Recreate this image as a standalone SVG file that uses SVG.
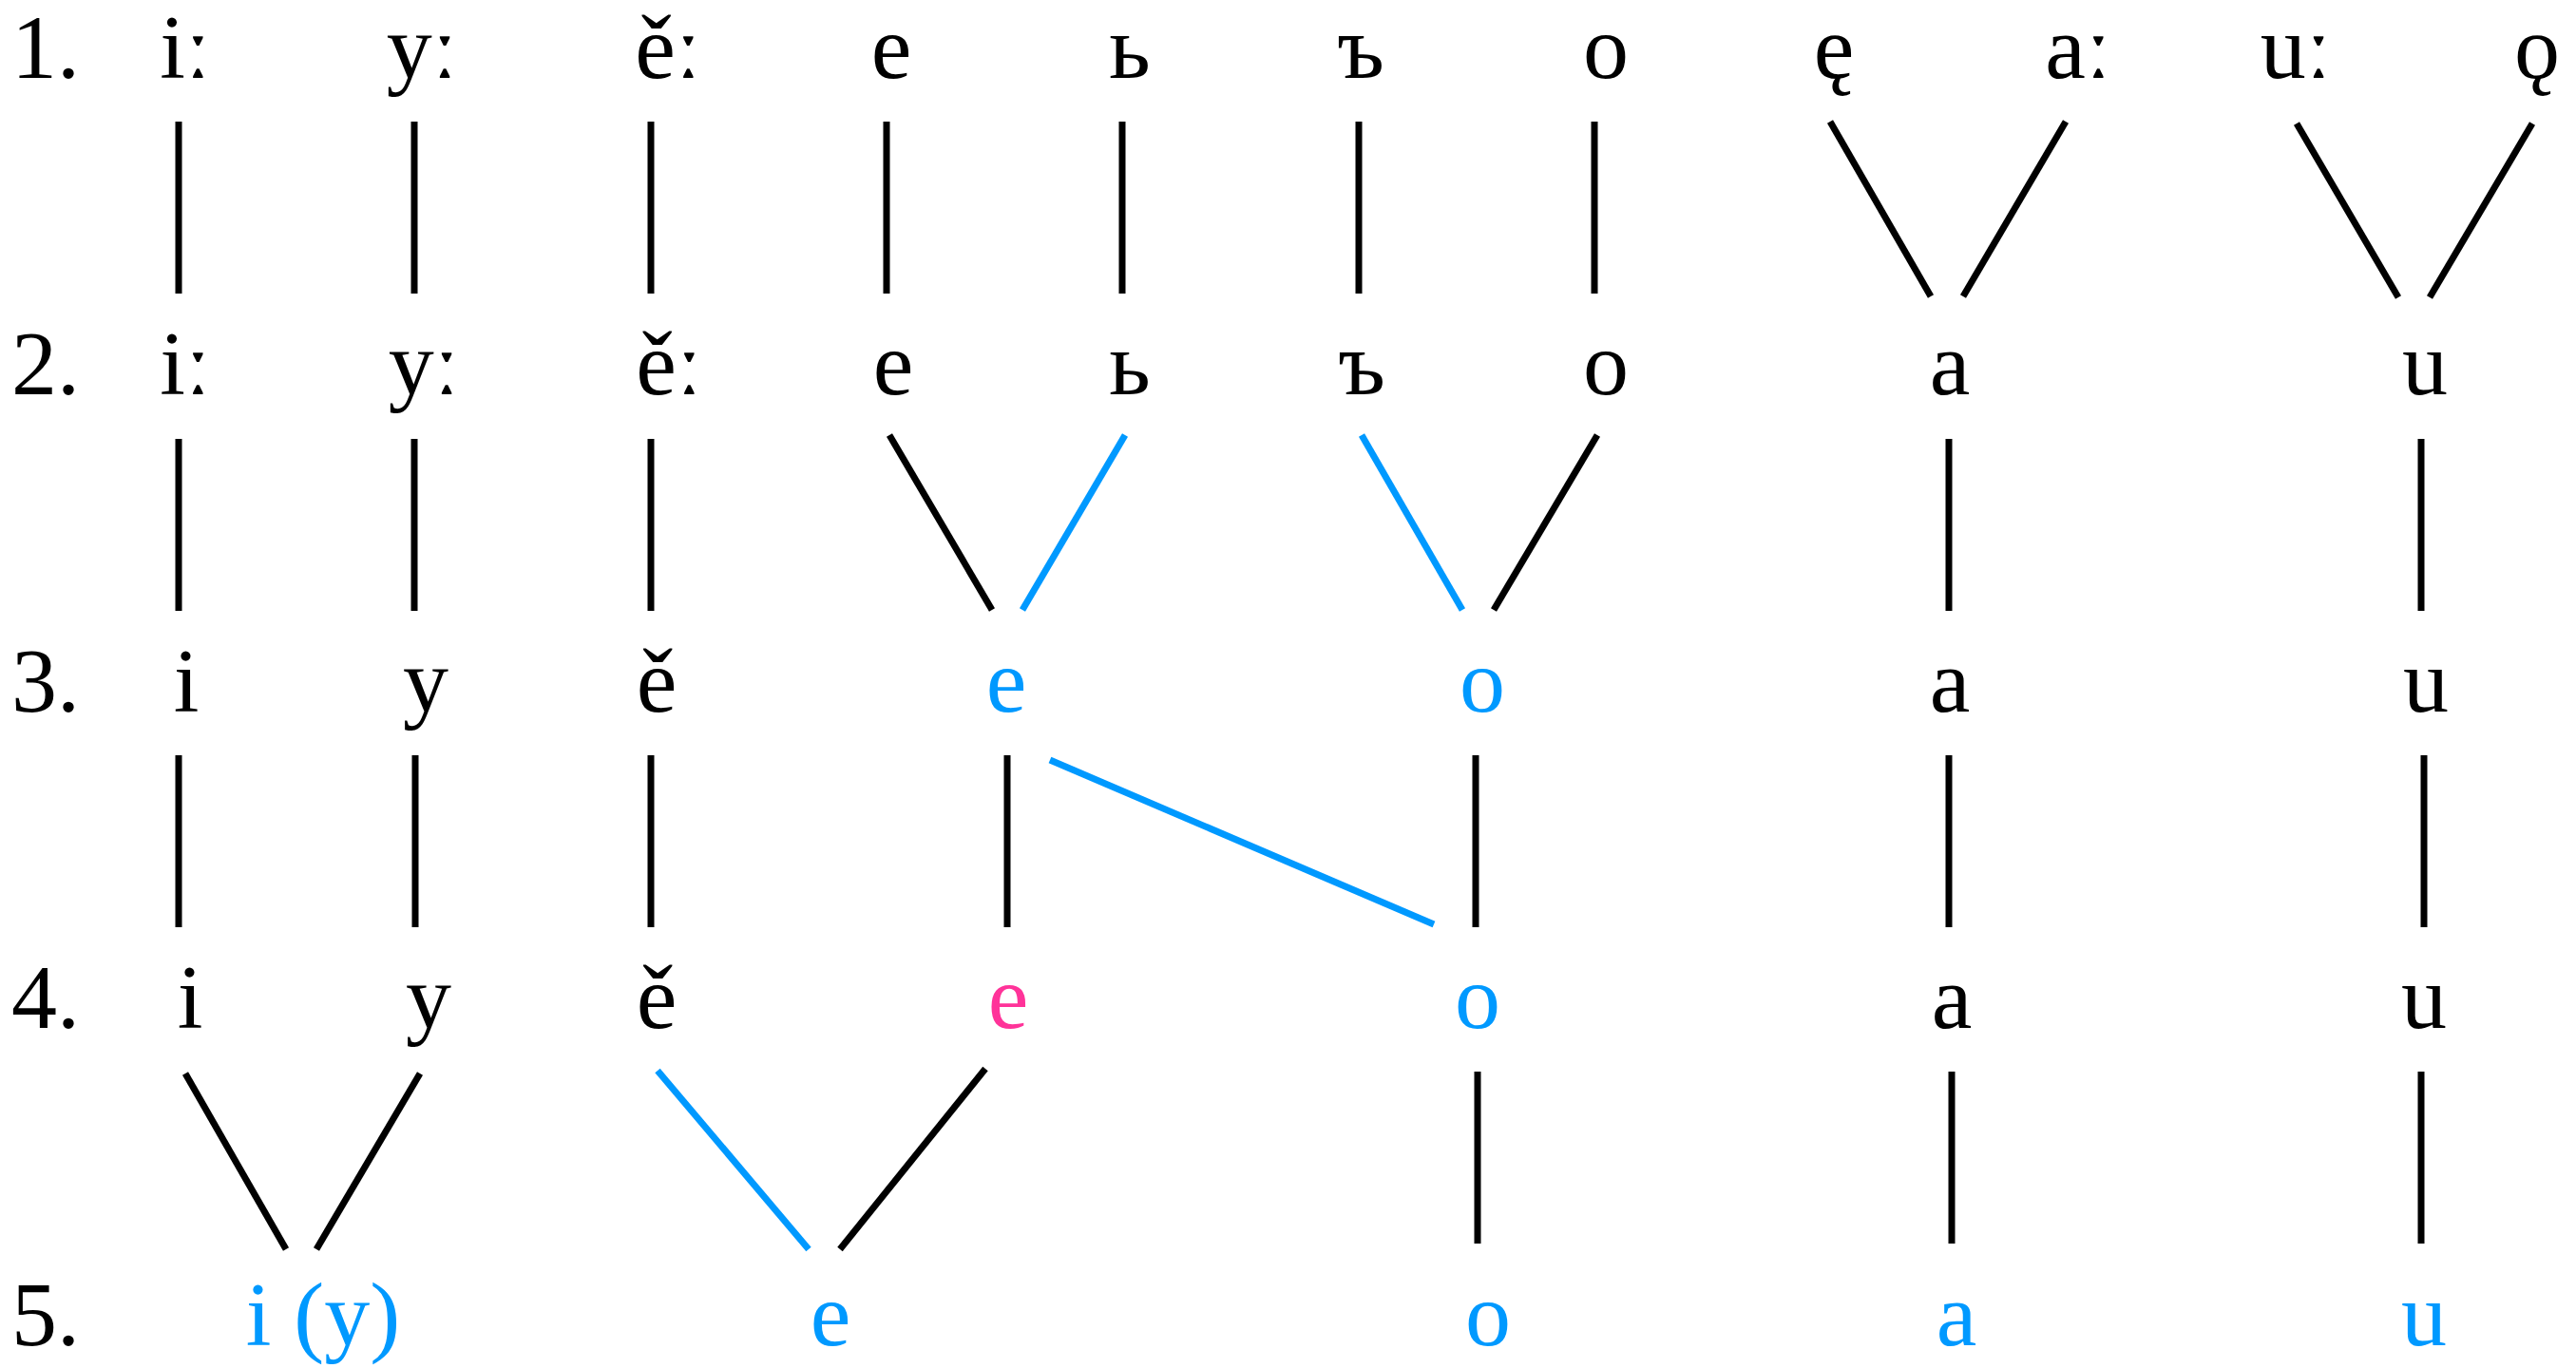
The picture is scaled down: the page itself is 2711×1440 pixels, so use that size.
<svg xmlns="http://www.w3.org/2000/svg" width="2711" height="1440" viewBox="0 0 2711 1440">
<style>
text{font-family:"Liberation Serif","Times New Roman","DejaVu Serif",serif;font-size:96px;fill:#000;text-anchor:middle}
text.lbl{text-anchor:start}
.b{fill:#0099ff}
.p{fill:#ff3399}
line{stroke:#000;stroke-width:7;stroke-linecap:butt}
line.bl{stroke:#0099ff}
</style>
<rect width="2711" height="1440" fill="#fff"/>
<g id="labels">
<text class="lbl" x="12" y="82">1.</text>
<text class="lbl" x="12" y="415">2.</text>
<text class="lbl" x="12" y="749">3.</text>
<text class="lbl" x="12" y="1082">4.</text>
<text class="lbl" x="12" y="1416">5.</text>
</g>
<g id="row1">
<text x="195" y="82">iː</text>
<text x="444" y="82">yː</text>
<text x="703" y="82">ěː</text>
<text x="938" y="82">e</text>
<text x="1189" y="82">ь</text>
<text x="1432" y="82">ъ</text>
<text x="1690" y="82">o</text>
<text x="1930" y="82">ę</text>
<text x="2187" y="82">aː</text>
<text x="2416" y="82">uː</text>
<text x="2670" y="82">ǫ</text>
</g>
<g id="row2">
<text x="195" y="415">iː</text>
<text x="446" y="415">yː</text>
<text x="704" y="415">ěː</text>
<text x="940" y="415">e</text>
<text x="1189" y="415">ь</text>
<text x="1433" y="415">ъ</text>
<text x="1690" y="415">o</text>
<text x="2052" y="415">a</text>
<text x="2552" y="415">u</text>
</g>
<g id="row3">
<text x="196" y="749">i</text>
<text x="448" y="749">y</text>
<text x="691" y="749">ě</text>
<text class="b" x="1059" y="749">e</text>
<text class="b" x="1560" y="749">o</text>
<text x="2052" y="749">a</text>
<text x="2553" y="749">u</text>
</g>
<g id="row4">
<text x="200" y="1082">i</text>
<text x="451" y="1082">y</text>
<text x="691" y="1082">ě</text>
<text class="p" x="1061" y="1082">e</text>
<text class="b" x="1555" y="1082">o</text>
<text x="2054" y="1082">a</text>
<text x="2551" y="1082">u</text>
</g>
<g id="row5">
<text class="b" x="340" y="1416">i (y)</text>
<text class="b" x="874" y="1416">e</text>
<text class="b" x="1566" y="1416">o</text>
<text class="b" x="2059" y="1416">a</text>
<text class="b" x="2551" y="1416">u</text>
</g>
<g id="connectors">
<line x1="188" y1="128" x2="188" y2="309"/>
<line x1="436" y1="128" x2="436" y2="309"/>
<line x1="685" y1="128" x2="685" y2="309"/>
<line x1="933" y1="128" x2="933" y2="309"/>
<line x1="1181" y1="128" x2="1181" y2="309"/>
<line x1="1430" y1="128" x2="1430" y2="309"/>
<line x1="1678" y1="128" x2="1678" y2="309"/>
<line x1="1926" y1="128" x2="2032" y2="312"/>
<line x1="2174" y1="128" x2="2066" y2="312"/>
<line x1="2417" y1="130" x2="2524" y2="313"/>
<line x1="2665" y1="130" x2="2557" y2="313"/>

<line x1="188" y1="462" x2="188" y2="643"/>
<line x1="436" y1="462" x2="436" y2="643"/>
<line x1="685" y1="462" x2="685" y2="643"/>
<line x1="936" y1="458" x2="1044" y2="642"/>
<line class="bl" x1="1184" y1="458" x2="1076" y2="642"/>
<line class="bl" x1="1433" y1="458" x2="1539" y2="642"/>
<line x1="1681" y1="458" x2="1572" y2="642"/>
<line x1="2051" y1="462" x2="2051" y2="643"/>
<line x1="2548" y1="462" x2="2548" y2="643"/>

<line x1="188" y1="795" x2="188" y2="976"/>
<line x1="437" y1="795" x2="437" y2="976"/>
<line x1="685" y1="795" x2="685" y2="976"/>
<line x1="1060" y1="795" x2="1060" y2="976"/>
<line class="bl" x1="1105" y1="800" x2="1509" y2="973"/>
<line x1="1553" y1="795" x2="1553" y2="976"/>
<line x1="2051" y1="795" x2="2051" y2="976"/>
<line x1="2551" y1="795" x2="2551" y2="976"/>

<line x1="195" y1="1130" x2="301" y2="1315"/>
<line x1="442" y1="1130" x2="333" y2="1315"/>
<line class="bl" x1="692" y1="1127" x2="851" y2="1315"/>
<line x1="1037" y1="1125" x2="884" y2="1315"/>
<line x1="1555" y1="1128" x2="1555" y2="1309"/>
<line x1="2054" y1="1128" x2="2054" y2="1309"/>
<line x1="2548" y1="1128" x2="2548" y2="1309"/>
</g>
</svg>
